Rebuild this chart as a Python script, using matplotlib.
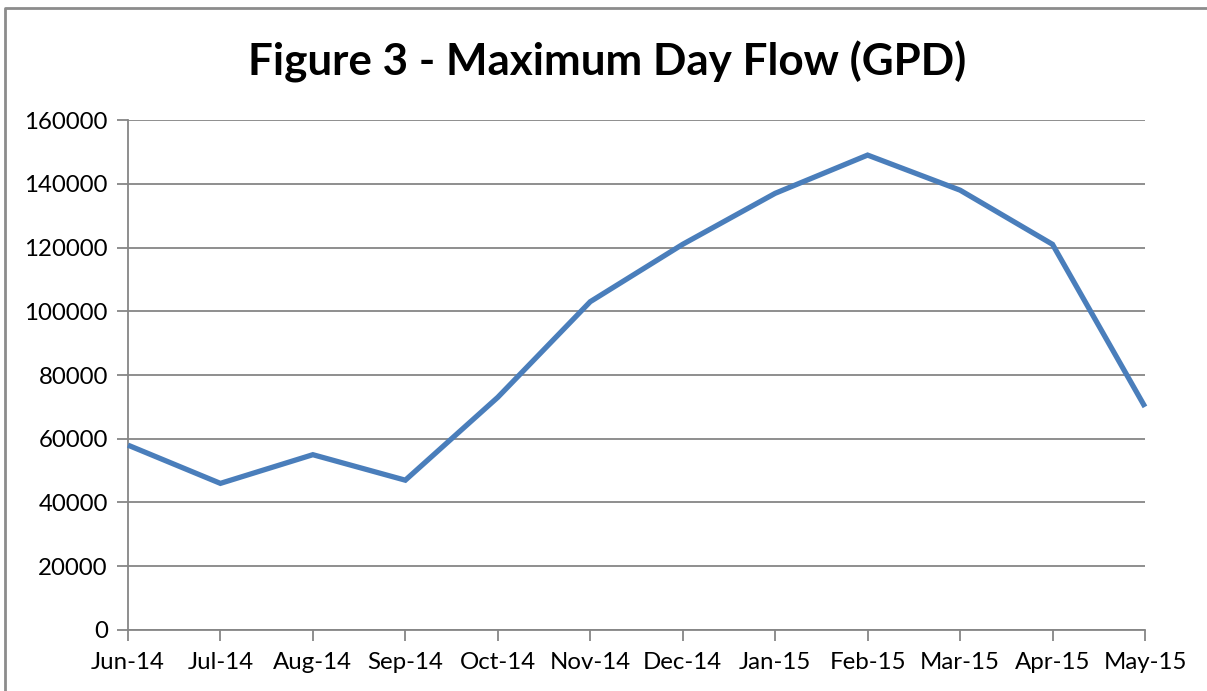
import matplotlib.pyplot as plt
from matplotlib.lines import Line2D

months = ['Jun-14', 'Jul-14', 'Aug-14', 'Sep-14', 'Oct-14', 'Nov-14',
          'Dec-14', 'Jan-15', 'Feb-15', 'Mar-15', 'Apr-15', 'May-15']
max_day_flow = [58000, 46000, 55000, 47000, 73000, 103000,
                121000, 137000, 149000, 138000, 121000, 70000]
y_ticks = [0, 20000, 40000, 60000, 80000, 100000, 120000, 140000, 160000]

plt.rcParams['font.family'] = ['Lato', 'DejaVu Sans']

fig = plt.figure(figsize=(12.07, 6.91), dpi=100)
ax = fig.add_axes([0.1060, 0.0883, 0.8426, 0.7380])

grid_col = '#868686'
x = list(range(len(months)))
ax.plot(x, max_day_flow, color='#4A7EBB', linewidth=3.8, solid_joinstyle='miter',
        solid_capstyle='butt', zorder=3, clip_on=False)

ax.set_xlim(0, len(months) - 1)
ax.set_ylim(0, 160000)
ax.set_yticks(y_ticks)
ax.set_yticklabels([str(v) for v in y_ticks])
ax.set_xticks(x)
ax.set_xticklabels(months)

ax.yaxis.grid(True, color=grid_col, linewidth=1.3)
ax.set_axisbelow(True)
for side in ['top', 'right']:
    ax.spines[side].set_visible(False)
for side in ['left', 'bottom']:
    ax.spines[side].set_color(grid_col)
    ax.spines[side].set_linewidth(1.3)

ax.tick_params(axis='both', colors=grid_col, width=1.3, length=8, labelcolor='black',
               labelsize=17.3)
ax.tick_params(axis='x', pad=8)
ax.tick_params(axis='y', pad=6.5)

fig.text(0.503, 0.911, 'Figure 3 - Maximum Day Flow (GPD)', ha='center', va='center',
         fontsize=31.7, fontweight='bold')

# chart frame (left and top edges only)
fig.add_artist(Line2D([5 / 1207, 5 / 1207, 1.0], [0.0, 1 - 8 / 691, 1 - 8 / 691],
                      color='#8c8c8c', linewidth=2.0, transform=fig.transFigure))

fig.savefig('out.png', dpi=100)
